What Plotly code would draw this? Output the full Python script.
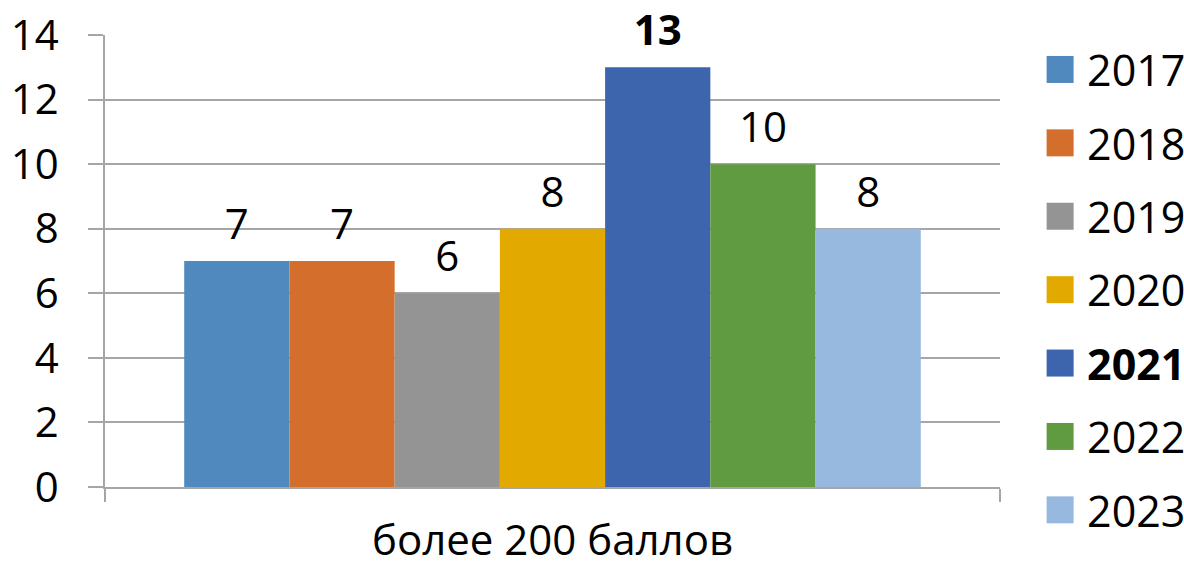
import plotly.graph_objects as go

category = ["более 200 баллов"]
years = ["2017", "2018", "2019", "2020", "2021", "2022", "2023"]
values = [7, 7, 6, 8, 13, 10, 8]
colors = ["#4F89BD", "#D36E2C", "#949494", "#E2AA00", "#3D65AD", "#619B41", "#98B9DF"]
bold_years = ["2021"]

FONT = "Open Sans"
FS = 42
fig = go.Figure()
for yr, v, c in zip(years, values, colors):
    b = yr in bold_years
    fig.add_trace(go.Bar(
        x=category, y=[v], name=f"<b>{yr}</b>" if b else yr,
        marker=dict(color=c, line=dict(width=0)),
        text=[f"<b>{v}</b>" if b else str(v)], textposition="outside",
        textfont=dict(size=FS, color="black", family=FONT),
        cliponaxis=False, legendgroup=yr,
    ))

fig.update_layout(
    width=1184, height=566,
    margin=dict(l=105, r=184, t=35, b=79, autoexpand=False),
    paper_bgcolor="white", plot_bgcolor="white",
    barmode="group", bargap=0.177, bargroupgap=0,
    font=dict(family=FONT, size=FS, color="black"),
    showlegend=True,
    legend=dict(x=1.037, xanchor="left", y=1.0, yanchor="top",
                font=dict(size=43, family=FONT), tracegroupgap=14.5,
                itemwidth=44, bgcolor="rgba(0,0,0,0)", maxheight=700),
)
fig.update_yaxes(range=[0, 14], dtick=2, showgrid=True, gridcolor="#A6A6A6", gridwidth=1.5,
                 showline=True, linecolor="#A6A6A6", linewidth=1.5,
                 ticks="outside", ticklen=15, tickcolor="#A6A6A6", tickwidth=1.5,
                 tickfont=dict(size=FS), zeroline=False, automargin=False,
                 ticklabelstandoff=21)
fig.update_xaxes(showline=True, linecolor="#A6A6A6", linewidth=1.5,
                 ticks="outside", tickson="boundaries", ticklen=13, tickcolor="#A6A6A6",
                 tickwidth=1.5, tickfont=dict(size=FS), automargin=False,
                 ticklabelstandoff=16)

post = """
document.body.style.margin = '0';
document.body.style.padding = '0';
var gd = document.getElementById('{plot_id}');
function fixUp(){
  document.querySelectorAll('.legendpoints path').forEach(function(p){
    var t = p.getAttribute('transform') || '';
    if (t.indexOf('scale') < 0) p.setAttribute('transform', t + ' scale(2.25)');
  });
  document.querySelectorAll('.barlayer .point text').forEach(function(el){
    if (!el.dataset.shifted) {
      var t = el.getAttribute('transform') || '';
      el.setAttribute('transform', 'translate(0,-7) ' + t);
      el.dataset.shifted = '1';
    }
  });
}
fixUp();
gd.on('plotly_afterplot', function(){ setTimeout(fixUp, 0); });
"""
fig.write_html("out.html", post_script=post, config={"displayModeBar": False})
